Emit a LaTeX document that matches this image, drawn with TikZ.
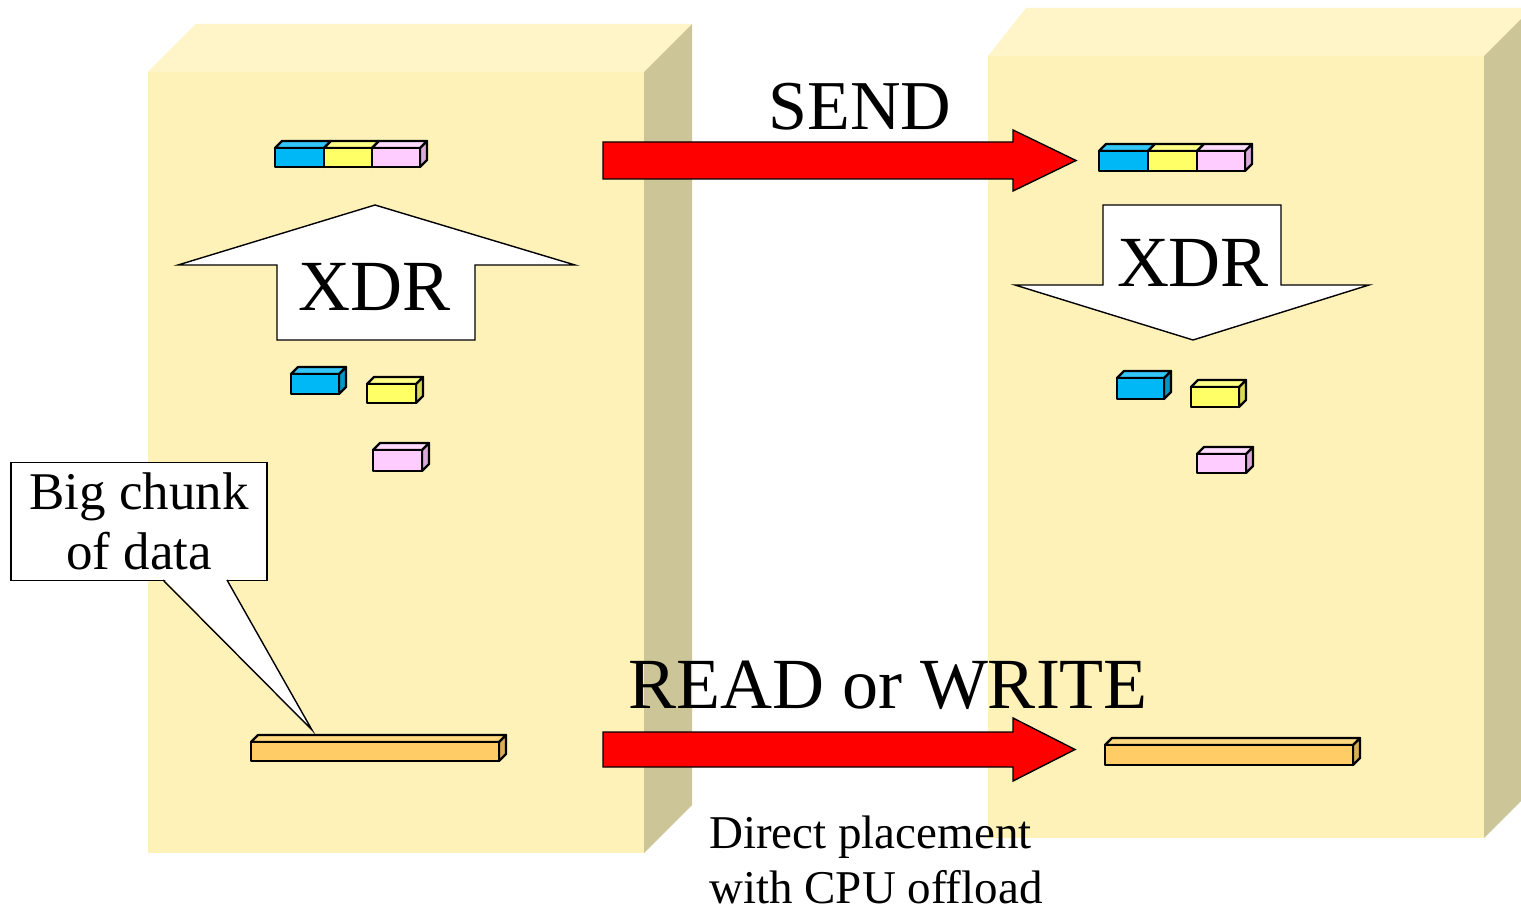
\documentclass[tikz,border=0pt]{standalone}
\usepackage{fontspec}
\setmainfont{Liberation Serif}

% slab (host) colours
\definecolor{slabfront}{HTML}{FFF2B9}
\definecolor{slabtop}{HTML}{FFF5C8}
\definecolor{slabside}{HTML}{CCC598}
% data block colours: front, top, side
\definecolor{bluefront}{HTML}{00B8F5}
\definecolor{bluetop}{HTML}{33C6F8}
\definecolor{blueside}{HTML}{0096C8}
\definecolor{yellowfront}{HTML}{FFFF66}
\definecolor{yellowtop}{HTML}{FFFF88}
\definecolor{yellowside}{HTML}{D9D955}
\definecolor{pinkfront}{HTML}{FFCCFF}
\definecolor{pinktop}{HTML}{FFDAFF}
\definecolor{pinkside}{HTML}{D9AAD9}
\definecolor{orangefront}{HTML}{FFCC66}
\definecolor{orangetop}{HTML}{FFD880}
\definecolor{orangeside}{HTML}{D9AD55}

% a small 3D data block: x, y (top of front face), width, height, colour prefix
\newcommand\datablock[5]{%
  \draw[blk,fill=#5side] ({#1+#3},{#2}) -- ++(7,-7) -- ++(0,#4) -- ++(-7,7) -- cycle;
  \draw[blk,fill=#5top] ({#1},{#2}) -- ++(7,-7) -- ++(#3,0) -- ++(-7,7) -- cycle;
  \draw[blk,fill=#5front] ({#1},{#2}) rectangle ++(#3,#4);
}

\begin{document}
\begin{tikzpicture}[x=1pt,y=-1pt,
  blk/.style={draw=black,line width=2.3pt,line join=round},
  bigarrow/.style={draw=black,fill=red,line width=1.4pt,line join=miter},
  xdrarrow/.style={draw=black,fill=white,line width=1.4pt,line join=miter},
  label/.style={inner sep=0pt,anchor=base},
  bigtext/.style={font=\fontsize{72}{86}\selectfont}]

\clip (0,0) rectangle (1521,909);
\fill[white] (0,0) rectangle (1521,909);

% left host slab
\fill[slabfront] (148,72) rectangle (644,853);
\fill[slabtop] (148,72) -- (196,24) -- (692,24) -- (644,72) -- cycle;
\fill[slabside] (644,72) -- (692,24) -- (692,805) -- (644,853) -- cycle;

% right host slab
\fill[slabfront] (988,56) rectangle (1484,838);
\fill[slabtop] (988,56) -- (1026,8) -- (1532,8) -- (1484,56) -- cycle;
\fill[slabside] (1484,56) -- (1532,8) -- (1532,790) -- (1484,838) -- cycle;

% SEND arrow
\coordinate (sendtail) at (603,160.5);
\coordinate (sendtip) at (1076,160.5);
\draw[bigarrow] (603,142) -- (1013,142) -- (1013,130) -- (sendtip)
  -- (1013,191) -- (1013,179) -- (603,179) -- cycle;
\node[label,font=\fontsize{70}{84}\selectfont] (send) at (860,130) {SEND};

% READ or WRITE arrow
\coordinate (rdmatip) at (1075,749.5);
\draw[bigarrow] (603,732) -- (1013,732) -- (1013,718) -- (rdmatip)
  -- (1013,781) -- (1013,767) -- (603,767) -- cycle;
\node[label,bigtext] (rdma) at (888,708) {READ or WRITE};

% XDR encode arrow (left, pointing up)
\draw[xdrarrow] (375,205) -- (575,265) -- (475,265) -- (475,340)
  -- (277,340) -- (277,265) -- (178,265) -- cycle;
\node[label,bigtext] (xdrleft) at (375,311) {XDR};

% XDR decode arrow (right, pointing down)
\draw[xdrarrow] (1103,205) -- (1281,205) -- (1281,285) -- (1369,285)
  -- (1193,340) -- (1015,285) -- (1103,285) -- cycle;
\node[label,bigtext] (xdrright) at (1193,287) {XDR};

% encoded stream, left
\datablock{275}{148}{49}{19}{blue}
\datablock{324}{148}{48}{19}{yellow}
\datablock{372}{148}{48}{19}{pink}
% encoded stream, right
\datablock{1099}{151}{49}{20}{blue}
\datablock{1148}{151}{49}{20}{yellow}
\datablock{1197}{151}{48}{20}{pink}

% separate items, left
\datablock{291}{374}{48}{20}{blue}
\datablock{367}{384}{49}{19}{yellow}
\datablock{373}{450}{49}{21}{pink}
% separate items, right
\datablock{1117}{378}{47}{21}{blue}
\datablock{1191}{387}{48}{20}{yellow}
\datablock{1197}{454}{49}{19}{pink}

% large data buffers
\datablock{251}{742}{248}{19}{orange}
\datablock{1105}{745}{248}{20}{orange}

% callout
\node[draw=black,fill=white,line width=1.4pt,minimum width=256pt,minimum height=118pt,
  inner sep=0pt,align=center,font=\fontsize{53}{60}\selectfont] (callout) at (139,521.5)
  {Big chunk\\of data};
\coordinate (calloutptr) at (312,730);
\fill[white] (163.5,578.5) -- (calloutptr) -- (226.5,578.5) -- cycle;
\draw[line width=1.4pt,line join=miter] (163,580) -- (calloutptr) -- (227,580);

% note under the RDMA arrow (anchored on its last line)
\node[inner sep=0pt,anchor=base west,align=left,font=\fontsize{47}{55}\selectfont]
  (note) at (709,903) {Direct placement\\with CPU offload};

\end{tikzpicture}
\end{document}
